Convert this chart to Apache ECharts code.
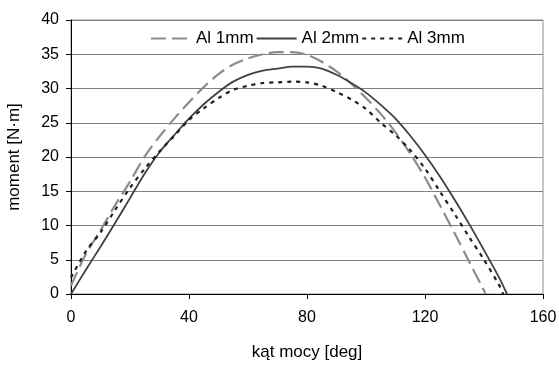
<!DOCTYPE html>
<html>
<head>
<meta charset="utf-8">
<script src="https://cdn.jsdelivr.net/npm/echarts@6/dist/echarts.min.js"></script>
<style>
  html, body { margin: 0; padding: 0; background: #fff; }
  #chart { width: 559px; height: 365px; }
</style>
</head>
<body>
<div id="chart"></div>
<script>
// Load angle [deg] and torque [N·m] for three aluminium thicknesses
const angle1 = [0, 5, 10, 15, 20, 25, 30, 35, 40, 45, 50, 55, 60, 65, 70, 75, 80, 85, 90, 95, 100, 105, 110, 115, 120, 125, 130, 135, 140, 140.5];
const al1mm  = [1.2, 5.8, 9.3, 13.0, 16.4, 20.1, 23.0, 25.6, 28.0, 30.2, 32.1, 33.5, 34.4, 35.0, 35.3, 35.3, 34.9, 33.9, 32.5, 30.7, 28.6, 26.3, 23.6, 20.5, 17.0, 13.0, 8.9, 4.7, 0.5, 0];

const angle2 = [0, 5, 10, 15, 20, 25, 30, 35, 40, 45, 50, 55, 60, 65, 70, 75, 80, 85, 90, 95, 100, 105, 110, 115, 120, 125, 130, 135, 140, 145, 147.8];
const al2mm  = [0, 3.5, 6.9, 10.4, 14.0, 17.6, 20.7, 23.2, 25.6, 27.7, 29.5, 31.0, 32.0, 32.6, 32.9, 33.2, 33.2, 32.9, 32.0, 30.8, 29.4, 27.6, 25.6, 23.1, 20.3, 17.2, 13.8, 10.2, 6.4, 2.5, 0];

const angle3 = [0, 5, 10, 15, 20, 25, 30, 35, 40, 45, 50, 55, 60, 65, 70, 75, 80, 85, 90, 95, 100, 105, 110, 115, 120, 125, 130, 135, 140, 145, 146.5];
const al3mm  = [2.4, 6.2, 9.0, 12.3, 15.5, 18.3, 20.8, 23.1, 25.4, 27.1, 28.6, 29.8, 30.4, 30.8, 30.9, 31.0, 30.9, 30.4, 29.5, 28.4, 27.0, 25.0, 23.2, 21.0, 18.3, 15.0, 11.7, 8.3, 5.0, 1.4, 0];

const seriesNames = ['Al 1mm', 'Al 2mm', 'Al 3mm'];
const xTitle = 'kąt mocy [deg]';
const yTitle = 'moment [N·m]';

const pairs = (xs, ys) => xs.map((x, i) => [x, ys[i]]);

const FONT = 'Liberation Sans, Arial, sans-serif';
const chart = echarts.init(document.getElementById('chart'), null, { renderer: 'canvas' });

chart.setOption({
  animation: false,
  backgroundColor: '#ffffff',
  textStyle: { fontFamily: FONT, color: '#000' },
  grid: {
    left: 71, right: 16, top: 20, bottom: 71,
    outerBoundsMode: 'none',
    show: true, borderColor: '#8c8c8c', borderWidth: 1, backgroundColor: 'transparent'
  },
  legend: {
    left: 145, top: 25,
    itemWidth: 40, itemHeight: 14, itemGap: 2,
    // line samples only, no marker in the middle
    itemStyle: { opacity: 0 },
    textStyle: { fontFamily: FONT, fontSize: 17, color: '#000' },
    data: seriesNames
  },
  xAxis: {
    type: 'value', min: 0, max: 160, interval: 40,
    name: xTitle, nameLocation: 'middle', nameGap: 50,
    nameTextStyle: { fontFamily: FONT, fontSize: 17, color: '#000' },
    axisLine: { show: true, lineStyle: { color: '#000', width: 1 } },
    axisTick: { show: true, length: 5, lineStyle: { color: '#000' } },
    axisLabel: { margin: 16, fontFamily: FONT, fontSize: 16, color: '#000' },
    splitLine: { show: false }
  },
  yAxis: {
    type: 'value', min: 0, max: 40, interval: 5,
    name: yTitle, nameLocation: 'middle', nameGap: 48,
    nameTextStyle: { fontFamily: FONT, fontSize: 17, color: '#000' },
    axisLine: { show: true, lineStyle: { color: '#000', width: 1 } },
    axisTick: { show: true, length: 5, lineStyle: { color: '#000' } },
    axisLabel: { margin: 12, fontFamily: FONT, fontSize: 16, color: '#000' },
    splitLine: { show: true, lineStyle: { color: '#808080', width: 1 } }
  },
  series: [
    {
      name: seriesNames[0], type: 'line', symbol: 'none', smooth: 0.3,
      data: pairs(angle1, al1mm),
      lineStyle: { color: '#8c8c8c', width: 2.2, type: [15, 6] },
      itemStyle: { color: '#8c8c8c' }
    },
    {
      name: seriesNames[1], type: 'line', symbol: 'none', smooth: 0.3,
      data: pairs(angle2, al2mm),
      lineStyle: { color: '#404040', width: 1.8, type: 'solid' },
      itemStyle: { color: '#404040' }
    },
    {
      name: seriesNames[2], type: 'line', symbol: 'none', smooth: 0.3,
      data: pairs(angle3, al3mm),
      lineStyle: { color: '#202020', width: 2.2, type: [4, 5] },
      itemStyle: { color: '#202020' }
    }
  ]
});
</script>
</body>
</html>
